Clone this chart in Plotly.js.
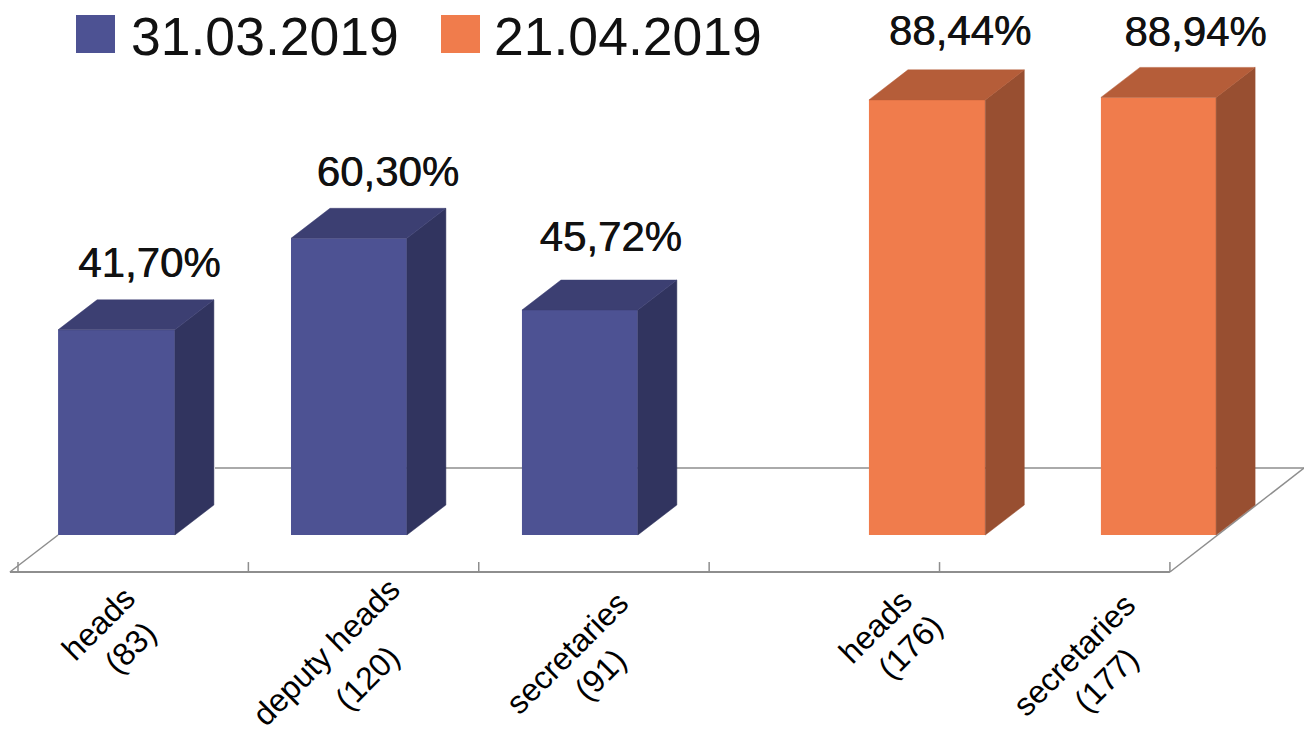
<!DOCTYPE html>
<html>
<head>
<meta charset="utf-8">
<script src="https://cdn.plot.ly/plotly-3.0.1.min.js"></script>
<style>html,body{margin:0;padding:0;background:#fff}#chart{width:1304px;height:735px}</style>
</head>
<body>
<div id="chart"></div>
<script>
// ---- data ----
var series1Name = '31.03.2019';
var series2Name = '21.04.2019';
var series1Slots = [0, 1, 2];
var series2Slots = [3, 4];
var series1Values = [41.70, 60.30, 45.72];
var series2Values = [88.44, 88.94];
var series1Groups = ['heads', 'deputy heads', 'secretaries'];
var series1Counts = ['(83)', '(120)', '(91)'];
var series2Groups = ['heads', 'secretaries'];
var series2Counts = ['(176)', '(177)'];
var tickSlots = [0, 1, 2, 3, 4, 5];

// ---- placement and style ----
var W = 1304, H = 735;
var font = '"Liberation Sans", Arial, sans-serif';
var colors1 = {front: '#4D5293', top: '#3C3F72', side: '#31345F'};
var colors2 = {front: '#F07C4C', top: '#B55D39', side: '#984F31'};
var width1 = [0.507, 0.503, 0.503], width2 = [0.505, 0.5];
var offset1 = [0.174, 0.185, 0.1875], offset2 = [0.6936, 0.7005];
var depthX = 0.1693, depthY = 6.1;
var xRange = [-0.0781, 5.582], yRange = [-40.65, 108.74];
var floorFront = -7.52, floorBack = 13.6, tickTop = -5.5;
var floorLeft = -0.035, wallLeft = 0.855, floorRight = 5;
var gridColor = '#8E8E8E';
var valueShift1 = {x: [0.396, 0.42, 0.385], y: [12.9, 12.8, 14.2]};
var valueShift2 = {x: [0.395, 0.41], y: [13.2, 12.6]};
var groupPos = {x: [98, 326, 567, 875, 1074], y: [624, 652, 653, 627, 655]};
var countPos = {x: [130, 367, 600, 910, 1106], y: [648, 678, 675, 647, 680]};

function polys(slots, values, off, wid, kind) {
  var xs = [], ys = [];
  slots.forEach(function (s, i) {
    var l = s + off[i], r = l + wid[i], v = values[i];
    if (kind === 'side') {
      xs.push(r, r + depthX, r + depthX, r, r, null);
      ys.push(0, depthY, v + depthY, v, 0, null);
    } else {
      xs.push(l, l + depthX, r + depthX, r, l, null);
      ys.push(v, v + depthY, v + depthY, v, v, null);
    }
  });
  return {x: xs, y: ys};
}
function face(slots, values, off, wid, kind, color) {
  var p = polys(slots, values, off, wid, kind);
  return {type: 'scatter', mode: 'lines', x: p.x, y: p.y, fill: 'toself', fillcolor: color,
          line: {width: 0.5, color: color}, hoverinfo: 'skip', showlegend: false, cliponaxis: false};
}
function bars(name, slots, values, off, wid, color) {
  return {type: 'bar', name: name, x: slots, y: values, width: wid, offset: off,
          marker: {color: color, line: {width: 0}}, showlegend: false};
}
function valueText(slots, values, off, shift) {
  return {type: 'scatter', mode: 'text',
    x: slots.map(function (s, i) { return s + off[i] + shift.x[i]; }),
    y: values.map(function (v, i) { return v + shift.y[i]; }),
    text: values.map(function (v) { return v.toFixed(2).replace('.', ',') + '%'; }),
    textposition: 'middle center',
    textfont: {family: font, size: 42, color: '#111111', shadow: '0.6px 0 0 #111111'},
    hoverinfo: 'skip', showlegend: false, cliponaxis: false};
}

var traces = [
  bars(series1Name, series1Slots, series1Values, offset1, width1, colors1.front),
  bars(series2Name, series2Slots, series2Values, offset2, width2, colors2.front),
  face(series1Slots, series1Values, offset1, width1, 'side', colors1.side),
  face(series1Slots, series1Values, offset1, width1, 'top', colors1.top),
  face(series2Slots, series2Values, offset2, width2, 'side', colors2.side),
  face(series2Slots, series2Values, offset2, width2, 'top', colors2.top),
  valueText(series1Slots, series1Values, offset1, valueShift1),
  valueText(series2Slots, series2Values, offset2, valueShift2)
];

function seg(x0, y0, x1, y1, w) {
  return {type: 'line', layer: 'below', xref: 'x', yref: 'y', x0: x0, y0: y0, x1: x1, y1: y1,
          line: {color: gridColor, width: w}};
}
var shapes = [
  seg(floorLeft, floorFront, floorRight, floorFront, 2),
  seg(floorLeft, floorFront, offset1[0], 0, 1.5),
  seg(wallLeft, floorBack, xRange[1], floorBack, 1.5),
  seg(floorRight, floorFront, xRange[1], floorBack, 1.5)
];
tickSlots.forEach(function (t) { shapes.push(seg(t, floorFront, t, tickTop, 1.5)); });

// legend swatches
function swatch(x0, color) {
  return {type: 'rect', xref: 'paper', yref: 'paper', x0: x0 / W, x1: (x0 + 39) / W,
          y0: 1 - 53 / H, y1: 1 - 15 / H, fillcolor: color, line: {width: 0}};
}
shapes.push(swatch(76, colors1.front), swatch(441, colors2.front));

var annotations = [];
function addLabels(labels, pos) {
  labels.forEach(function (t, i) {
    annotations.push({xref: 'paper', yref: 'paper', x: pos.x[i] / W, y: 1 - pos.y[i] / H,
      text: t, showarrow: false, textangle: -45, align: 'center',
      xanchor: 'center', yanchor: 'middle',
      font: {family: font, size: 32, color: '#000000'}});
  });
}
addLabels(series1Groups.concat(series2Groups), groupPos);
addLabels(series1Counts.concat(series2Counts), countPos);
function legendText(x0, t) {
  annotations.push({xref: 'paper', yref: 'paper', x: x0 / W, y: 1 - 36 / H, text: t,
    showarrow: false, xanchor: 'left', yanchor: 'middle',
    font: {family: font, size: 53.5, color: '#111111'}});
}
legendText(129, series1Name);
legendText(492, series2Name);

var layout = {
  width: W, height: H, margin: {l: 0, r: 0, t: 0, b: 0},
  paper_bgcolor: '#ffffff', plot_bgcolor: '#ffffff', showlegend: false,
  xaxis: {range: xRange, visible: false, fixedrange: true},
  yaxis: {range: yRange, visible: false, fixedrange: true},
  shapes: shapes, annotations: annotations
};
Plotly.newPlot('chart', traces, layout, {displayModeBar: false, staticPlot: true});
</script>
</body>
</html>
